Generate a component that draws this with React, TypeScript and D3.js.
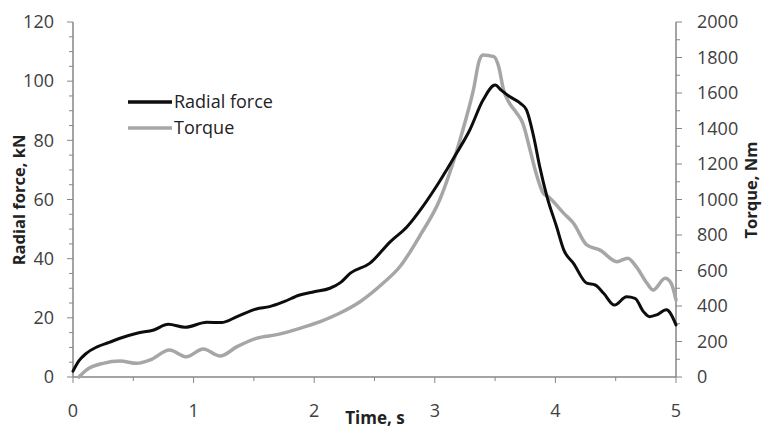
import React from "react";
import * as d3 from "d3";

const radialTime = [0, 0.05, 0.11, 0.2, 0.3, 0.39, 0.53, 0.67, 0.79, 0.93, 1.11, 1.23, 1.36, 1.52, 1.63, 1.75, 1.88, 2.0, 2.13, 2.22, 2.3, 2.46, 2.63, 2.77, 2.9, 3.03, 3.18, 3.29, 3.4, 3.5, 3.55, 3.62, 3.71, 3.76, 3.82, 3.87, 3.93, 4.01, 4.07, 4.15, 4.26, 4.33, 4.4, 4.49, 4.59, 4.66, 4.73, 4.78, 4.84, 4.92, 5.0];
const radialForce = [2, 5.5, 8.0, 10.2, 11.7, 13.1, 14.8, 15.9, 17.8, 16.8, 18.5, 18.4, 20.4, 23.0, 23.8, 25.5, 27.7, 28.8, 30.0, 32.0, 35.1, 38.4, 45.7, 50.8, 57.6, 65.5, 75.6, 83.5, 93.6, 98.7, 97.0, 94.8, 92.5, 90.3, 81.2, 71.1, 61.0, 50.8, 42.9, 38.4, 31.7, 31.1, 28.3, 24.3, 27.1, 26.6, 22.1, 20.4, 21.0, 22.7, 17.6];

const torqueTime = [0.05, 0.11, 0.25, 0.39, 0.53, 0.64, 0.8, 0.94, 1.08, 1.22, 1.36, 1.52, 1.7, 1.88, 2.05, 2.21, 2.38, 2.57, 2.71, 2.88, 3.04, 3.15, 3.24, 3.32, 3.37, 3.4, 3.49, 3.53, 3.57, 3.62, 3.68, 3.73, 3.79, 3.84, 3.9, 3.94, 4.07, 4.15, 4.26, 4.37, 4.51, 4.6, 4.67, 4.76, 4.81, 4.91, 4.96, 5.0];
const torqueValues = [0, 39, 77, 90, 77, 96, 152, 114, 158, 118, 171, 218, 240, 274, 312, 359, 424, 528, 621, 800, 997, 1204, 1410, 1617, 1786, 1814, 1805, 1748, 1617, 1542, 1486, 1429, 1279, 1148, 1035, 1016, 922, 866, 744, 715, 650, 669, 622, 528, 490, 556, 528, 434];

const xTicks = [0, 1, 2, 3, 4, 5];
const leftTicks = [0, 20, 40, 60, 80, 100, 120];
const rightTicks = [0, 200, 400, 600, 800, 1000, 1200, 1400, 1600, 1800, 2000];
const seriesNames = ["Radial force", "Torque"];

const W = 762, H = 430;
const FONT = "'Open Sans', sans-serif";
const AXIS = "#868686";
const TXT = "#404040";

export default function App() {
  const x = d3.scaleLinear().domain([0, 5]).range([73, 676]);
  const yL = d3.scaleLinear().domain([0, 120]).range([377, 22]);
  const yR = d3.scaleLinear().domain([0, 2000]).range([377, 22]);

  const radialPts = radialTime.map((t, i) => [t, radialForce[i]] as [number, number]);
  const torquePts = torqueTime.map((t, i) => [t, torqueValues[i]] as [number, number]);

  const lineL = d3.line<[number, number]>().x(d => x(d[0])).y(d => yL(d[1])).curve(d3.curveMonotoneX);
  const lineR = d3.line<[number, number]>().x(d => x(d[0])).y(d => yR(d[1])).curve(d3.curveMonotoneX);

  const xMinor = d3.range(0, 5.01, 0.5);
  const lMinor = d3.range(0, 120.1, 5);
  const rMinor = d3.range(0, 2000.1, 100);

  return (
    <svg width={W} height={H} style={{ position: "absolute", left: 0, top: 0, background: "#fff" }} fontFamily={FONT}>
      <rect x={0} y={0} width={W} height={H} fill="#fff" />
      <g stroke={AXIS} strokeWidth={1.5}>
        <line x1={x(0)} x2={x(0)} y1={yL(0)} y2={yL(120)} />
        <line x1={x(5)} x2={x(5)} y1={yR(0)} y2={yR(2000)} />
        <line x1={x(0)} x2={x(5)} y1={yL(0)} y2={yL(0)} />
        {lMinor.map(v => (
          <line key={"lm" + v} x1={x(0) - (v % 20 === 0 ? 6 : 4)} x2={x(0)} y1={yL(v)} y2={yL(v)} strokeWidth={1} />
        ))}
        {rMinor.map(v => (
          <line key={"rm" + v} x1={x(5)} x2={x(5) + (v % 200 === 0 ? 6 : 4)} y1={yR(v)} y2={yR(v)} strokeWidth={1} />
        ))}
        {xMinor.map(v => (
          <line key={"xm" + v} x1={x(v)} x2={x(v)} y1={yL(0)} y2={yL(0) + (Math.abs(v % 1) < 1e-6 ? 6 : 4)} strokeWidth={1} />
        ))}
      </g>
      <g fontSize={18} fill={TXT}>
        {leftTicks.map(v => (
          <text key={"lt" + v} x={54} y={yL(v)} dy="0.35em" textAnchor="end">{v}</text>
        ))}
        {rightTicks.map(v => (
          <text key={"rt" + v} x={697} y={yR(v)} dy="0.35em" textAnchor="start">{v}</text>
        ))}
        {xTicks.map(v => (
          <text key={"xt" + v} x={x(v)} y={411} dy="0.35em" textAnchor="middle">{v}</text>
        ))}
      </g>
      <text x={375} y={424} textAnchor="middle" fontSize={17} fontWeight="bold" fill="#222">Time, s</text>
      <text transform={`translate(25,200) rotate(-90)`} textAnchor="middle" fontSize={16.5} fontWeight="bold" fill="#222">Radial force, kN</text>
      <text transform={`translate(757,190) rotate(-90)`} textAnchor="middle" fontSize={16.5} fontWeight="bold" fill="#222">Torque, Nm</text>
      <path d={lineR(torquePts) ?? ""} fill="none" stroke="#a6a6a6" strokeWidth={3.5} strokeLinejoin="round" strokeLinecap="round" />
      <path d={lineL(radialPts) ?? ""} fill="none" stroke="#0d0d0d" strokeWidth={3} strokeLinejoin="round" strokeLinecap="round" />
      <g fontSize={18} fill="#222">
        <line x1={128} x2={172} y1={102} y2={102} stroke="#0d0d0d" strokeWidth={3.5} />
        <text x={174} y={102} dy="0.35em">{seriesNames[0]}</text>
        <line x1={128} x2={172} y1={128} y2={128} stroke="#a6a6a6" strokeWidth={3.5} />
        <text x={174} y={128} dy="0.35em">{seriesNames[1]}</text>
      </g>
    </svg>
  );
}
